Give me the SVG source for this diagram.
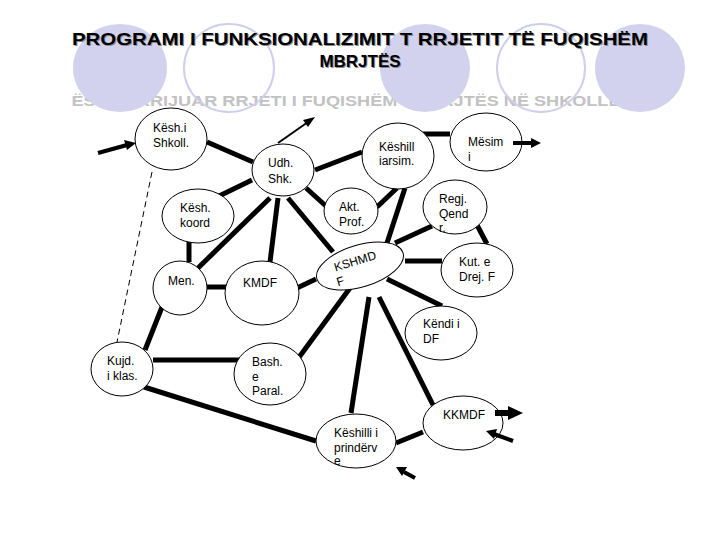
<svg xmlns="http://www.w3.org/2000/svg" width="720" height="540" viewBox="0 0 720 540">
<defs>
<style>
.bgf{fill:#d2d2ee;stroke:none}
.bgo{fill:none;stroke:#cfcfec;stroke-width:2}
.node{fill:#fff;stroke:#000;stroke-width:1}
.t{font-family:"Liberation Sans",Arial,sans-serif;font-size:12px;fill:#000}
.c{stroke:#000;stroke-width:5;fill:none;stroke-linecap:butt}
.ar{fill:#000}
</style>
</defs>
<rect width="720" height="540" fill="#fff"/>
<text x="346" y="106" font-family="Liberation Sans,Arial,sans-serif" font-weight="bold" font-size="15" fill="#c2c2c2" text-anchor="middle" textLength="549" lengthAdjust="spacingAndGlyphs">ËSHTË KRIJUAR RRJETI I FUQISHËM I MBRJTËS NË SHKOLLË</text>
<g id="bg">
<ellipse class="bgf" cx="120" cy="68" rx="47" ry="44"/>
<ellipse class="bgo" cx="229" cy="68" rx="45" ry="44"/>
<ellipse class="bgf" cx="425" cy="68" rx="45" ry="44"/>
<ellipse class="bgo" cx="541" cy="68" rx="44" ry="44"/>
<ellipse class="bgf" cx="640" cy="68" rx="45" ry="44"/>
</g>
<g id="title" font-family="Liberation Sans,Arial,sans-serif" font-weight="bold" font-size="17" text-anchor="middle">
<text x="361" y="46" fill="#888" textLength="576" lengthAdjust="spacingAndGlyphs">PROGRAMI I FUNKSIONALIZIMIT T RRJETIT TË FUQISHËM</text>
<text x="360" y="45" fill="#000" textLength="576" lengthAdjust="spacingAndGlyphs">PROGRAMI I FUNKSIONALIZIMIT T RRJETIT TË FUQISHËM</text>
<text x="361" y="68" fill="#888">MBRJTËS</text>
<text x="360" y="67" fill="#000">MBRJTËS</text>
</g>
<g id="connectors">
<line x1="152" y1="172" x2="117" y2="342" stroke="#000" stroke-width="1" stroke-dasharray="6,4"/>
<line class="c" x1="207" y1="142" x2="253" y2="162"/>
<line class="c" x1="252" y1="180" x2="215" y2="198"/>
<line class="c" x1="315" y1="170" x2="362" y2="152"/>
<line class="c" x1="306" y1="188" x2="327" y2="207"/>
<line class="c" x1="270" y1="198" x2="198" y2="268"/>
<line class="c" x1="278" y1="198" x2="270" y2="262"/>
<line class="c" x1="288" y1="198" x2="333" y2="252"/>
<line class="c" x1="189" y1="242" x2="189" y2="262"/>
<line class="c" x1="207" y1="287" x2="226" y2="287"/>
<line class="c" x1="297" y1="288" x2="316" y2="279"/>
<line class="c" x1="162" y1="307" x2="145" y2="350"/>
<line class="c" x1="423" y1="134" x2="450" y2="134"/>
<line class="c" x1="397" y1="188" x2="377" y2="207"/>
<line class="c" x1="405" y1="188" x2="387" y2="243"/>
<line class="c" x1="395" y1="243" x2="432" y2="226"/>
<line class="c" x1="477" y1="225" x2="487" y2="244"/>
<line class="c" x1="405" y1="261" x2="442" y2="261"/>
<line class="c" x1="387" y1="279" x2="442" y2="306"/>
<line class="c" x1="350" y1="288" x2="297" y2="360"/>
<line class="c" x1="369" y1="297" x2="351" y2="413"/>
<line class="c" x1="379" y1="297" x2="433" y2="405"/>
<line class="c" x1="153" y1="360" x2="243" y2="360"/>
<line class="c" x1="144" y1="387" x2="316" y2="441"/>
<line class="c" x1="396" y1="443" x2="423" y2="432"/>
</g>
<g id="n-keshi-shkoll"><ellipse class="node" cx="171" cy="139" rx="36" ry="31"/><text class="t" x="153" y="132">Kësh.i</text><text class="t" x="153" y="147">Shkoll.</text></g>
<g id="n-udh-shk"><ellipse class="node" cx="283" cy="170" rx="31" ry="26"/><text class="t" x="268" y="167">Udh.</text><text class="t" x="268" y="183">Shk.</text></g>
<g id="n-kesh-koord"><ellipse class="node" cx="198" cy="216" rx="36" ry="27"/><text class="t" x="180" y="212">Kësh.</text><text class="t" x="180" y="227">koord</text></g>
<g id="n-men"><ellipse class="node" cx="180" cy="288" rx="27" ry="27"/><text class="t" x="168" y="285">Men.</text></g>
<g id="n-kmdf"><ellipse class="node" cx="262" cy="293" rx="37" ry="32"/><text class="t" x="243" y="287">KMDF</text></g>
<g id="n-akt-prof"><ellipse class="node" cx="351" cy="211" rx="27" ry="23"/><text class="t" x="339" y="211">Akt.</text><text class="t" x="339" y="226">Prof.</text></g>
<g id="n-keshill-iarsim"><ellipse class="node" cx="398" cy="156" rx="36" ry="33"/><text class="t" x="379" y="151">Këshill</text><text class="t" x="379" y="165">iarsim.</text></g>
<g id="n-mesim"><ellipse class="node" cx="486" cy="142" rx="36" ry="29"/><text class="t" x="468" y="146">Mësim</text><text class="t" x="468" y="161">i</text></g>
<g id="n-regj-qend"><ellipse class="node" cx="455" cy="207" rx="32" ry="27"/><text class="t" x="439" y="203">Regj.</text><text class="t" x="439" y="218">Qend</text><text class="t" x="439" y="232">r.</text></g>
<g id="n-kut-drej"><ellipse class="node" cx="477" cy="270" rx="36" ry="27"/><text class="t" x="459" y="266">Kut. e</text><text class="t" x="459" y="281">Drej. F</text></g>
<g id="n-kshmdf" transform="translate(360,266) rotate(-17)"><ellipse class="node" cx="0" cy="0" rx="45" ry="21"/><text class="t" x="-25" y="-2">KSHMD</text><text class="t" x="-27" y="13">F</text></g>
<g id="n-kendi-df"><ellipse class="node" cx="441" cy="333" rx="36" ry="27"/><text class="t" x="423" y="328">Këndi i</text><text class="t" x="423" y="343">DF</text></g>
<g id="n-kujd-klas"><ellipse class="node" cx="122" cy="369" rx="31" ry="27"/><text class="t" x="107" y="365">Kujd.</text><text class="t" x="107" y="380">i  klas.</text></g>
<g id="n-bash-paral"><ellipse class="node" cx="270" cy="374" rx="36" ry="31"/><text class="t" x="252" y="366">Bash.</text><text class="t" x="252" y="381">e</text><text class="t" x="252" y="395">Paral.</text></g>
<g id="n-keshilli-prinderve"><ellipse class="node" cx="356" cy="441" rx="40" ry="27"/><text class="t" x="334" y="437">Këshilli i</text><text class="t" x="334" y="452">prindërv</text><text class="t" x="334" y="465">e</text></g>
<g id="n-kkmdf"><ellipse class="node" cx="463" cy="423" rx="40" ry="27"/><text class="t" x="443" y="419">KKMDF</text></g>
<g id="arrows">
<line x1="98" y1="153" x2="127" y2="145" stroke="#000" stroke-width="4"/>
<polygon class="ar" points="136,143 124,140 127,150"/>
<line x1="278" y1="143" x2="308" y2="122" stroke="#000" stroke-width="2"/>
<polygon class="ar" points="315,117 303,120 308,127"/>
<line x1="513" y1="143" x2="532" y2="143" stroke="#000" stroke-width="4"/>
<polygon class="ar" points="541,143 531,138 531,148"/>
<line x1="495" y1="413" x2="509" y2="413" stroke="#000" stroke-width="6"/>
<polygon class="ar" points="523,413 508,406 508,420"/>
<line x1="513" y1="441" x2="494" y2="434" stroke="#000" stroke-width="4"/>
<polygon class="ar" points="486,431 497,429 494,439"/>
<line x1="415" y1="478" x2="404" y2="472" stroke="#000" stroke-width="4"/>
<polygon class="ar" points="396,467 407,467 402,476"/>
</g>
</svg>
